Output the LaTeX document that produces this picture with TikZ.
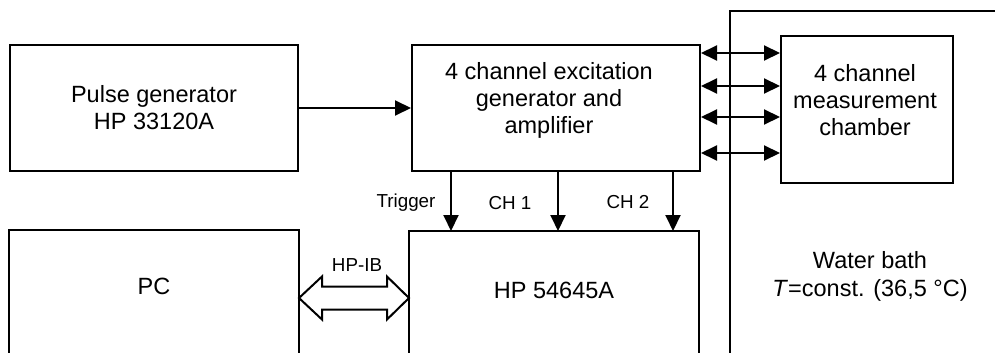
\documentclass[tikz,border=0pt]{standalone}
\usepackage{fontspec}
\setmainfont{Liberation Sans}
\usetikzlibrary{positioning,arrows.meta,calc}

\tikzset{
   box/.style={draw, minimum width=144pt, minimum height=62.5pt, align=center,
      font=\fontsize{11.75pt}{13.5pt}\selectfont},
   openbox/.style={box, draw=none},
   txt/.style={align=center, font=\fontsize{11.75pt}{13.5pt}\selectfont},
   lbl/.style={font=\fontsize{9.4pt}{11pt}\selectfont},
}

\begin{document}
\begin{tikzpicture}[x=0.5pt, y=-0.5pt, line width=1pt, >={Triangle[length=8pt,width=7.5pt]}]
   \clip (0,0) rectangle (995,353);
   \node[box] (pulse) at (154,108) {Pulse generator\\HP 33120A};
   \node[box, right=56pt of pulse] (exc) {};
   \node[txt] (exctxt) at ([xshift=-3.5pt, yshift=4pt]exc.center) {4 channel excitation\\generator and\\amplifier};
   \node[box, minimum width=86pt, minimum height=73.5pt] (chamber) at (867,109.5) {};
   \node[txt] (chtxt) at ([xshift=-1pt, yshift=4.75pt]chamber.center) {4 channel\\measurement\\chamber};
   \node[openbox, minimum height=55pt] (pc) at (154,286) {PC};
   \node[openbox, minimum height=58pt] (hp) at (554,290) {HP 54645A};
   \node[txt, font=\fontsize{11.75pt}{14pt}\selectfont] (bath) at (870,276) {Water bath\\\textit{T}=const. (36,5 °C)};
   \node[lbl] (trig) at (406,203) {Trigger};
   \node[lbl] (ch1) at (510,203) {CH 1};
   \node[lbl] (ch2) at (628,202) {CH 2};
   \node[lbl] (hpib) at (357,265) {HP-IB};
   \draw ([yshift=-30pt]pc.south west) |- (pc.north east) -- ([yshift=-30pt]pc.south east);
   \draw ([yshift=-30pt]hp.south west) |- (hp.north east) -- ([yshift=-30pt]hp.south east);
   \draw (730,380) |- (1010,11);
   \draw[->] (pulse) -- (exc);
   \foreach \y in {53,86,117,153}
      \draw[<->] (exc.east |- 0,\y) -- (chamber.west |- 0,\y);
   \foreach \x in {451,558,673}
      \draw[->] (exc.south -| \x,0) -- (hp.north -| \x,0);
   \coordinate (busl) at (pc.east |- 0,298);
   \coordinate (busr) at (hp.west |- 0,298);
   \draw[fill=white] (busl) -- ++(23,-21.5) -- ++(0,10) -- ($(busr)+(-22,-11.5)$) -- ++(0,-10)
      -- (busr) -- ++(-22,21.5) -- ++(0,-10) -- ($(busl)+(23,11.5)$) -- ++(0,10) -- cycle;
\end{tikzpicture}
\end{document}
